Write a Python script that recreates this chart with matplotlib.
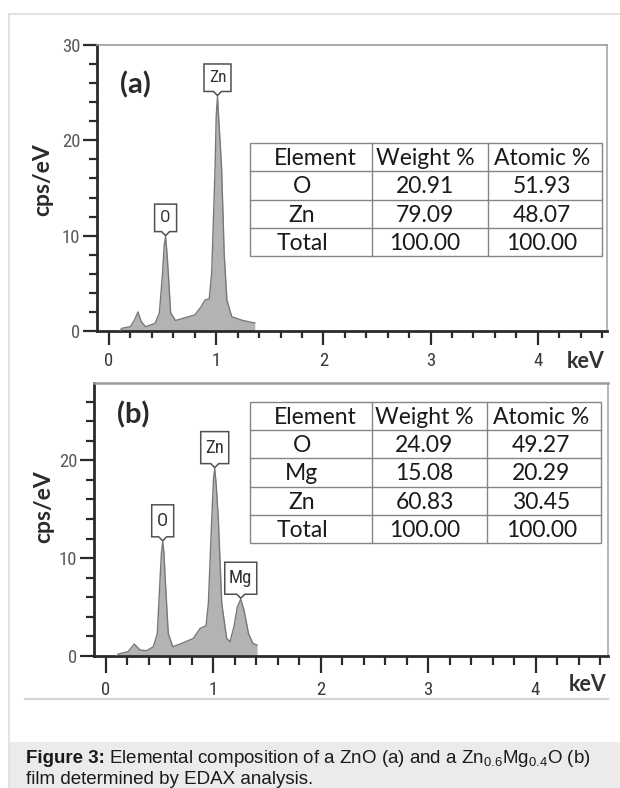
import matplotlib
matplotlib.use('Agg')
import matplotlib.pyplot as plt
from matplotlib import font_manager as fm
from matplotlib.path import Path
from matplotlib.patches import PathPatch, Rectangle
from matplotlib.lines import Line2D
import matplotlib.transforms as mtransforms
from matplotlib.ticker import MultipleLocator, FixedLocator

available = {f.name for f in fm.fontManager.ttflist}


def pick(*names):
    for n in names:
        if n in available:
            return n
    return 'DejaVu Sans'


NARROW = pick('Liberation Sans Narrow', 'Roboto Condensed', 'DejaVu Sans')
BODY = pick('Lato', 'Open Sans', 'DejaVu Sans')
CAP = pick('Liberation Sans', 'Arial', 'DejaVu Sans')
plt.rcParams['mathtext.default'] = 'regular'

# ---------------- data ----------------
kev_a = [0.10, 0.12, 0.20, 0.24, 0.27, 0.30, 0.34, 0.43, 0.47, 0.50, 0.515, 0.528,
         0.54, 0.553, 0.575, 0.62, 0.69, 0.80, 0.86, 0.895, 0.935, 0.958, 0.99,
         1.00, 1.012, 1.025, 1.05, 1.075, 1.10, 1.145, 1.25, 1.345, 1.36, 1.36]
cps_a = [0.0, 0.28, 0.45, 1.2, 2.0, 1.0, 0.45, 0.8, 1.9, 6.1, 9.0, 9.9,
         8.3, 6.1, 1.9, 1.1, 1.33, 1.68, 2.55, 3.25, 3.36, 6.1, 17.2,
         22.5, 24.6, 22.0, 17.2, 8.0, 3.25, 1.5, 1.1, 0.87, 0.85, 0.0]

kev_b = [0.10, 0.12, 0.21, 0.268, 0.32, 0.383, 0.445, 0.482, 0.507, 0.52, 0.532,
         0.544, 0.556, 0.584, 0.625, 0.693, 0.817, 0.879, 0.935, 0.957, 0.988,
         1.005, 1.016, 1.03, 1.05, 1.081, 1.127, 1.158, 1.195, 1.226, 1.258,
         1.288, 1.33, 1.37, 1.41, 1.41]
cps_b = [0.0, 0.2, 0.44, 1.22, 0.61, 0.54, 0.95, 2.3, 7.76, 10.5, 11.67,
         10.5, 7.76, 2.3, 0.95, 1.22, 1.8, 2.8, 3.1, 5.4, 13.9,
         18.2, 19.15, 17.5, 13.9, 5.4, 1.8, 1.46, 3.0, 5.0, 5.8,
         4.7, 2.3, 1.3, 1.1, 0.0]

peak_labels_a = ['O', 'Zn']
peak_kev_a = [0.528, 1.012]
peak_cps_a = [9.9, 24.6]

peak_labels_b = ['O', 'Zn', 'Mg']
peak_kev_b = [0.532, 1.016, 1.258]
peak_cps_b = [11.67, 19.15, 5.8]

table_cols = ['Element', 'Weight %', 'Atomic %']
elements_a = ['O', 'Zn', 'Total']
weight_a = ['20.91', '79.09', '100.00']
atomic_a = ['51.93', '48.07', '100.00']
elements_b = ['O', 'Mg', 'Zn', 'Total']
weight_b = ['24.09', '15.08', '60.83', '100.00']
atomic_b = ['49.27', '20.29', '30.45', '100.00']

x_major = [0, 1, 2, 3, 4]
panel_tags = ['(a)', '(b)']

# ---------------- figure ----------------
W, H = 620, 788
fig = plt.figure(figsize=(W / 100, H / 100), dpi=100)
fig.patch.set_facecolor('white')


def fbox(x0, y0, x1, y1):
    """pixel box (top-left origin) -> figure fraction rect"""
    return [x0 / W, 1 - y1 / H, (x1 - x0) / W, (y1 - y0) / H]


# frame and caption
fig.add_artist(Rectangle((9 / W, 0), 1 - 9 / W, 46 / H, transform=fig.transFigure,
                         facecolor='#ebebeb', edgecolor='none', zorder=0))
fig.add_artist(Line2D([9 / W, 9 / W], [0, 1 - 14 / H], transform=fig.transFigure,
                      color='#dedede', lw=1.2))
fig.add_artist(Line2D([9 / W, 1], [1 - 14 / H, 1 - 14 / H], transform=fig.transFigure,
                      color='#dedede', lw=1.2))
fig.add_artist(Line2D([25 / W, 608 / W], [1 - 699 / H, 1 - 699 / H], transform=fig.transFigure,
                      color='#d4d4d4', lw=1.6, zorder=0))

FILL = '#b3b3b3'
EDGE = '#777777'
DARK = '#2a2a2a'


def callout(ax, x, y, label, w, h, fs):
    p, q = 5, 4
    verts = [(-w / 2, p), (-q, p), (0, 1), (q, p), (w / 2, p), (w / 2, p + h),
             (-w / 2, p + h), (-w / 2, p)]
    verts = [(vx / 100, vy / 100) for vx, vy in verts]
    codes = [Path.MOVETO] + [Path.LINETO] * 6 + [Path.CLOSEPOLY]
    tr = fig.dpi_scale_trans + mtransforms.ScaledTranslation(x, y, ax.transData)
    patch = PathPatch(Path(verts, codes), transform=tr, facecolor='white',
                      edgecolor='#505050', lw=1.1, zorder=5, clip_on=False)
    ax.add_artist(patch)
    ax.annotate(label, xy=(x, y), xytext=(0, (p + h / 2) * 0.72), textcoords='offset points',
                ha='center', va='center', fontsize=fs, family=NARROW, color='#333333', zorder=6)


def draw_table(rect, rows, col_centers_body, row_h_px):
    tax = fig.add_axes(rect)
    n = len(rows)
    tax.set_xlim(0, 1)
    tax.set_ylim(n, 0)
    tax.axis('off')
    lc = '#858585'
    tax.add_patch(Rectangle((0, 0), 1, n, facecolor='white', edgecolor=lc, lw=1.0, clip_on=False))
    for cx in (0.347, 0.676):
        tax.plot([cx, cx], [0, n], color=lc, lw=1.0, clip_on=False)
    for r in range(1, n):
        tax.plot([0, 1], [r, r], color=lc, lw=1.0, clip_on=False)
    base_off = 8.0 / row_h_px
    for r, row in enumerate(rows):
        for c, txt in enumerate(row):
            cx = col_centers_body[c]
            if r == 0 and c == 0:
                cx = 0.185
            tax.text(cx, r + 0.5 + base_off, txt, ha='center', va='baseline',
                     fontsize=16.5, family=BODY, color='#1a1a1a')
    return tax


def style_axes(ax, ymax, ymajor, xlim, tick_pad_x, xmaj_len, xmin_len):
    ax.set_xlim(*xlim)
    ax.set_ylim(0, ymax)
    ax.xaxis.set_major_locator(FixedLocator(x_major))
    ax.xaxis.set_minor_locator(FixedLocator([v / 5 for v in range(0, 24)]))
    ax.yaxis.set_major_locator(FixedLocator(ymajor))
    ax.yaxis.set_minor_locator(MultipleLocator(2))
    for s in ('left', 'bottom'):
        ax.spines[s].set_color(DARK)
        ax.spines[s].set_linewidth(2.0)
    ax.spines['top'].set_color('#9a9a9a')
    ax.spines['right'].set_color('#a8a8a8')
    ax.spines['top'].set_linewidth(1.2)
    ax.spines['right'].set_linewidth(1.2)
    ax.tick_params(axis='x', which='major', direction='out', length=xmaj_len * 0.72, width=1.6,
                   color=DARK, pad=tick_pad_x, labelsize=13.5, labelcolor='#3a3a3a')
    ax.tick_params(axis='x', which='minor', direction='out', length=xmin_len * 0.72, width=1.6,
                   color=DARK)
    ax.tick_params(axis='y', which='major', direction='out', length=14 * 0.72, width=1.6,
                   color=DARK, pad=2.0, labelsize=13.5, labelcolor='#5a5a5a')
    ax.tick_params(axis='y', which='minor', direction='out', length=8.5 * 0.72, width=1.6,
                   color=DARK)
    ax.set_xticklabels([str(v) for v in x_major])
    ax.set_yticklabels([str(v) for v in ymajor])
    for lab in ax.get_xticklabels() + ax.get_yticklabels():
        lab.set_family(NARROW)


# ---------------- panel (a) ----------------
ax_a = fig.add_axes(fbox(97, 45, 607, 331))
ax_a.fill_between(kev_a, cps_a, 0, color=FILL, lw=0, zorder=2)
ax_a.plot(kev_a[:-1], cps_a[:-1], color=EDGE, lw=1.0, zorder=3)
style_axes(ax_a, 30, [0, 10, 20, 30], (-0.112, 4.646), 5.0, 14, 7)
ax_a.text(0.0755, 0.860, panel_tags[0], transform=ax_a.transAxes, ha='center', va='center',
          fontsize=21, fontweight='bold', family=BODY, color=DARK)
ax_a.text(0.958, -0.108, 'keV', transform=ax_a.transAxes, ha='center', va='center',
          fontsize=15.5, fontweight='bold', family=BODY, color='#333333')
fig.text(42.5 / W, 1 - 180 / H, 'cps/eV', rotation=90, ha='center', va='center',
         fontsize=16.5, fontweight='bold', family=BODY, color=DARK)
for lab, xk, yc, w in zip(peak_labels_a, peak_kev_a, peak_cps_a, [22, 27]):
    callout(ax_a, xk, yc, lab, w, 27.5, 12.5)
rows_a = [table_cols] + [list(r) for r in zip(elements_a, weight_a, atomic_a)]
draw_table(fbox(250, 143, 602, 256), rows_a, [0.148, 0.497, 0.83], 28.3)

# ---------------- panel (b) ----------------
ax_b = fig.add_axes(fbox(94, 383, 608, 656))
ax_b.fill_between(kev_b, cps_b, 0, color=FILL, lw=0, zorder=2)
ax_b.plot(kev_b[:-1], cps_b[:-1], color=EDGE, lw=1.0, zorder=3)
style_axes(ax_b, 27.9, [0, 10, 20], (-0.107, 4.674), 6.0, 17, 9)
ax_b.spines['top'].set_linewidth(1.8)
ax_b.text(0.0768, 0.883, panel_tags[1], transform=ax_b.transAxes, ha='center', va='center',
          fontsize=21, fontweight='bold', family=BODY, color=DARK)
ax_b.text(0.961, -0.106, 'keV', transform=ax_b.transAxes, ha='center', va='center',
          fontsize=15.5, fontweight='bold', family=BODY, color='#333333')
fig.text(44 / W, 1 - 507 / H, 'cps/eV', rotation=90, ha='center', va='center',
         fontsize=16.5, fontweight='bold', family=BODY, color=DARK)
for lab, xk, yc, w in zip(peak_labels_b, peak_kev_b, peak_cps_b, [22, 28, 32]):
    callout(ax_b, xk, yc, lab, w, 32, 13.5)
rows_b = [table_cols] + [list(r) for r in zip(elements_b, weight_b, atomic_b)]
draw_table(fbox(250, 402, 601, 543), rows_b, [0.148, 0.497, 0.83], 28.2)

# ---------------- caption ----------------
fig.canvas.draw()
renderer = fig.canvas.get_renderer()
t1 = fig.text(26 / W, 1 - 763 / H, 'Figure 3:', fontsize=13.5, fontweight='bold', family=CAP,
              color='#1a1a1a', va='baseline', ha='left')
bb = t1.get_window_extent(renderer)
fig.text(bb.x1 / W + 4 / W, 1 - 763 / H,
         'Elemental composition of a ZnO (a) and a Zn$_{0.6}$Mg$_{0.4}$O (b)',
         fontsize=13.5, family=CAP, color='#1a1a1a', va='baseline', ha='left')
fig.text(26 / W, 1 - 784 / H, 'film determined by EDAX analysis.', fontsize=13.5, family=CAP,
         color='#1a1a1a', va='baseline', ha='left')

fig.savefig('out.png', dpi=100, facecolor='white')
